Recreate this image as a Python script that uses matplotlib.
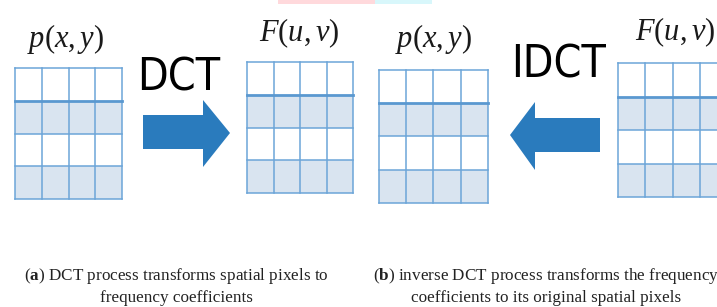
import matplotlib
matplotlib.use("Agg")
import matplotlib.pyplot as plt
from matplotlib.patches import Rectangle, Polygon

plt.rcParams['mathtext.fontset'] = 'custom'
plt.rcParams['mathtext.rm'] = 'Liberation Serif'
plt.rcParams['mathtext.it'] = 'Liberation Serif:italic'
plt.rcParams['mathtext.bf'] = 'Liberation Serif:bold'

# 4x4 blocks, rows 1 and 3 shaded
n_rows, n_cols = 4, 4
shaded_rows = [1, 3]
block_labels = [r'$p(x,y)$', r'$F(u,v)$', r'$p(x,y)$', r'$F(u,v)$']
arrow_labels = ['DCT', 'IDCT']
captions = ['(${\\bf a}$) DCT process transforms spatial pixels to\nfrequency coefficients',
            '(${\\bf b}$) inverse DCT process transforms the frequency\ncoefficients to its original spatial pixels']

# layout (pixels): left, top, cell w, cell h
blocks = [(15, 68, 26.8, 32.8), (247, 62, 26.5, 32.8),
          (379, 70, 27.2, 33.2), (618, 63, 27.3, 33.5)]
label_pos = [(66, 39), (299, 33), (434, 39), (675, 32)]

fig = plt.figure(figsize=(7.17, 3.07), dpi=100)
ax = fig.add_axes([0, 0, 1, 1])
ax.set_xlim(0, 717)
ax.set_ylim(307, 0)
ax.axis('off')

line_c = '#6ca5d8'
shade_c = '#d9e4f0'

# faint watermark strips at top
ax.add_patch(Rectangle((278, 0), 97, 4, color='#ffd9dc', lw=0))
ax.add_patch(Rectangle((375, 0), 57, 4, color='#d8f7fb', lw=0))

for (x0, y0, cw, ch), lab, lp in zip(blocks, block_labels, label_pos):
    for r in shaded_rows:
        ax.add_patch(Rectangle((x0, y0 + r * ch), n_cols * cw, ch, color=shade_c, lw=0))
    for c in range(n_cols + 1):
        ax.plot([x0 + c * cw] * 2, [y0, y0 + n_rows * ch], color=line_c, lw=1.1)
    for r in range(n_rows + 1):
        lw = 2.0 if r == 1 else 1.1
        col = '#5a98d0' if r == 1 else line_c
        ax.plot([x0, x0 + n_cols * cw], [y0 + r * ch] * 2, color=col, lw=lw)
    ax.text(lp[0], lp[1], lab, fontsize=22, ha='center', va='center', color='#1a1a1a')

arrow_c = '#2a7bbd'
# right arrow
ax.add_patch(Polygon([(143, 115), (203, 115), (203, 100), (230, 133),
                      (203, 167), (203, 149), (143, 149)], closed=True,
                     color=arrow_c, lw=0))
# left arrow
ax.add_patch(Polygon([(600, 118), (535, 118), (535, 102), (510, 135),
                      (535, 170), (535, 152), (600, 152)], closed=True,
                     color=arrow_c, lw=0))

ax.text(179, 78, arrow_labels[0], fontsize=32, ha='center', va='center',
        family='DejaVu Sans', stretch='condensed', color='black')
ax.text(559, 65, arrow_labels[1], fontsize=32, ha='center', va='center',
        family='DejaVu Sans', stretch='condensed', color='black')

ax.text(176, 286, captions[0], fontsize=12.3, ha='center', va='center',
        family='Liberation Serif', linespacing=1.3, color='#222222')
ax.text(546, 286, captions[1], fontsize=12.3, ha='center', va='center',
        family='Liberation Serif', linespacing=1.3, color='#222222')

fig.savefig('out.png', dpi=100)
